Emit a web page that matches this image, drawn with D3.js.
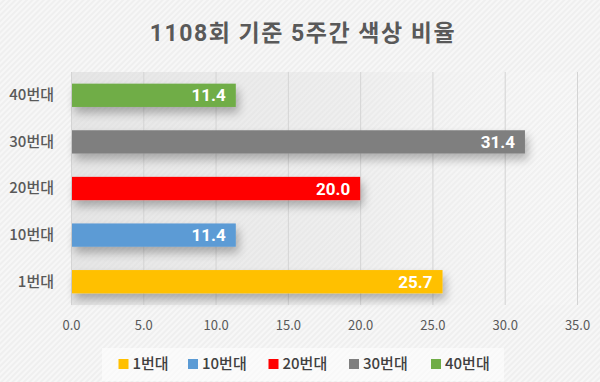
<!DOCTYPE html>
<html><head><meta charset="utf-8">
<script src="https://cdn.jsdelivr.net/npm/d3@7"></script>
<style>
html,body{margin:0;padding:0;background:#f2f2f2;}
svg{display:block;}
</style></head>
<body>
<svg id="chart" width="600" height="382"></svg>
<script>
const title = "1108회 기준 5주간 색상 비율";
const categories = ["1번대", "10번대", "20번대", "30번대", "40번대"];
const values = [25.7, 11.4, 20.0, 31.4, 11.4];
const colors = ["#FFC000", "#5B9BD5", "#FF0000", "#7F7F7F", "#70AD47"];
const xTicks = [0, 5, 10, 15, 20, 25, 30, 35];

const W = 600, H = 382;
const m = {left: 71, right: 23, top: 72, bottom: 77};
const svg = d3.select("#chart");
const defs = svg.append("defs");

const pat = defs.append("pattern").attr("id","tex").attr("width",4).attr("height",4)
  .attr("patternUnits","userSpaceOnUse").attr("patternTransform","rotate(45)");
pat.append("rect").attr("width",4).attr("height",4).attr("fill","#efefef");
pat.append("rect").attr("width",2).attr("height",4).attr("fill","#f7f7f7");

const grad = defs.append("linearGradient").attr("id","plotGrad").attr("x1","0").attr("x2","1").attr("y1","0").attr("y2","0");
grad.append("stop").attr("offset","0").attr("stop-color","#d8d8d8").attr("stop-opacity",0.55);
grad.append("stop").attr("offset","0.55").attr("stop-color","#e0e0e0").attr("stop-opacity",0.35);
grad.append("stop").attr("offset","1").attr("stop-color","#ffffff").attr("stop-opacity",0.1);

const flt = defs.append("filter").attr("id","shadow").attr("x","-20%").attr("y","-80%").attr("width","140%").attr("height","260%");
flt.append("feGaussianBlur").attr("in","SourceAlpha").attr("stdDeviation",5).attr("result","b");
flt.append("feOffset").attr("in","b").attr("dx",3).attr("dy",6).attr("result","o");
flt.append("feComponentTransfer").attr("in","o").attr("result","s")
  .append("feFuncA").attr("type","linear").attr("slope",0.28);
const mg = flt.append("feMerge");
mg.append("feMergeNode").attr("in","s");
mg.append("feMergeNode").attr("in","SourceGraphic");

svg.append("rect").attr("width",W).attr("height",H).attr("fill","url(#tex)");

const x = d3.scaleLinear().domain([0,35]).range([m.left, W - m.right]);
const y = d3.scaleBand().domain(categories.slice().reverse()).range([m.top, H - m.bottom]).paddingInner(0.5).paddingOuter(0.25);

svg.append("rect").attr("x", x(0)).attr("y", m.top).attr("width", x(35)-x(0)).attr("height", H-m.bottom-m.top)
  .attr("fill","url(#plotGrad)");

// gridlines
svg.append("g").selectAll("line").data(xTicks).join("line")
  .attr("x1", d=>x(d)+0.5).attr("x2", d=>x(d)+0.5)
  .attr("y1", m.top).attr("y2", H-m.bottom)
  .attr("stroke", "#d4d4d4").attr("stroke-width",1);

// bars
const bars = svg.append("g");
bars.selectAll("rect").data(categories).join("rect")
  .attr("x", x(0)+1)
  .attr("y", d=>y(d))
  .attr("height", y.bandwidth())
  .attr("width", (d,i)=>x(values[i]) - x(0) - 1)
  .attr("fill", (d,i)=>colors[i])
  .attr("filter","url(#shadow)");

bars.selectAll("text").data(categories).join("text")
  .attr("x", (d,i)=>x(values[i]) - 10)
  .attr("y", d=>y(d)+y.bandwidth()/2)
  .attr("dy","0.36em")
  .attr("text-anchor","end")
  .attr("font-family","Roboto, 'Noto Sans CJK KR', sans-serif")
  .attr("font-weight","bold")
  .attr("font-size","17px")
  .attr("fill","#ffffff")
  .text((d,i)=>values[i].toFixed(1));

// y axis
const yAxis = svg.append("g").attr("transform",`translate(${x(0)},0)`)
  .call(d3.axisLeft(y).tickSize(0).tickPadding(17));
yAxis.select(".domain").remove();
yAxis.selectAll("text").attr("font-family","'Noto Sans CJK KR', sans-serif")
  .attr("font-size","15px").attr("font-weight","500").attr("fill","#595959");

// x axis
const xAxis = svg.append("g").attr("transform",`translate(0,${H-m.bottom})`)
  .call(d3.axisBottom(x).tickValues(xTicks).tickSize(0).tickPadding(16).tickFormat(d3.format(".1f")));
xAxis.select(".domain").remove();
xAxis.selectAll("text").attr("font-family","'Noto Sans CJK KR', sans-serif")
  .attr("font-size","13px").attr("fill","#595959");

// title
svg.append("text").attr("x", 303).attr("y", 41).attr("text-anchor","middle")
  .attr("font-family","Roboto, 'Noto Sans CJK KR', sans-serif")
  .attr("font-weight","bold").attr("font-size","23px").attr("letter-spacing","1.5px")
  .attr("fill","#595959").text(title);

// legend
svg.append("rect").attr("x",102).attr("y",348).attr("width",402).attr("height",33)
  .attr("fill","#ffffff").attr("opacity",0.55);
const legendX = [118.5, 188, 268.5, 349, 431];
const lg = svg.append("g").selectAll("g").data(categories).join("g")
  .attr("transform",(d,i)=>`translate(${legendX[i]},364)`);
lg.append("rect").attr("x",0).attr("y",-5).attr("width",10).attr("height",10).attr("fill",(d,i)=>colors[i]);
lg.append("text").attr("x",14).attr("dy","0.36em")
  .attr("font-family","'Noto Sans CJK KR', sans-serif").attr("font-size","15px").attr("font-weight","500")
  .attr("fill","#404040").text(d=>d);
</script>
</body></html>
